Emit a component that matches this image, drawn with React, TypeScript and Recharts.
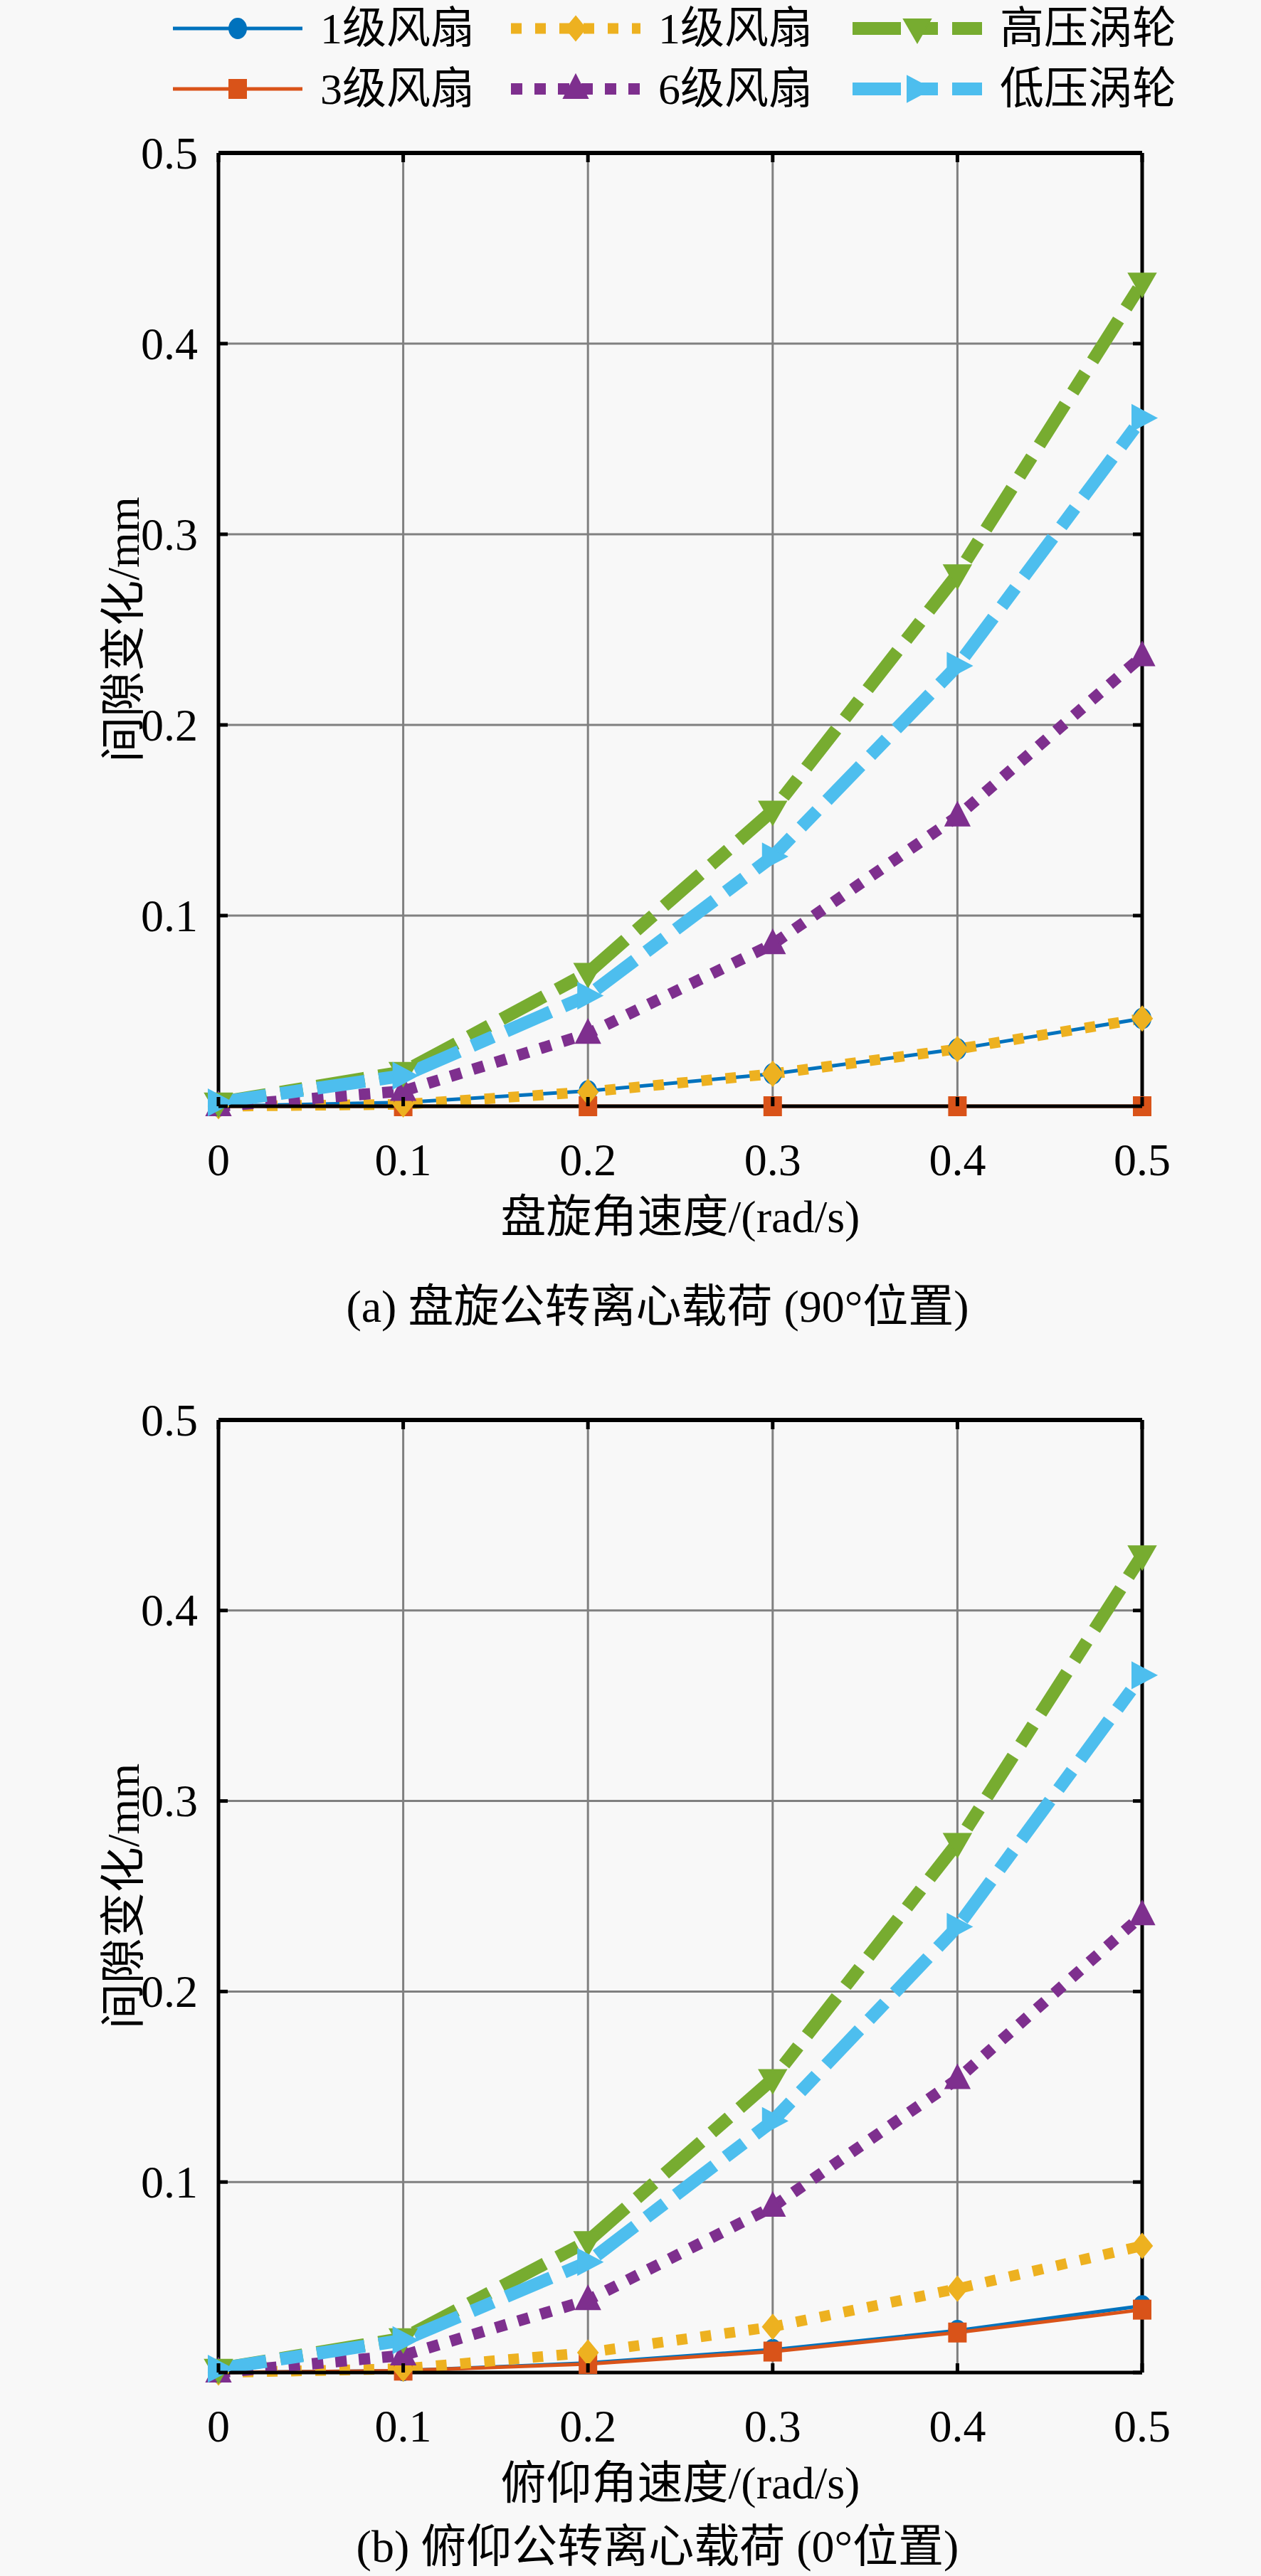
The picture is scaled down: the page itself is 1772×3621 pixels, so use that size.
// 间隙变化 vs 角速度 两个子图 (MATLAB 风格)
import React from 'react';
import { LineChart, Line, XAxis, YAxis, CartesianGrid } from 'recharts';

const FONT = "'Liberation Serif', 'Times New Roman', 'Noto Sans CJK SC', serif";
const BG = '#f8f8f8';

const xValues = [0, 0.1, 0.2, 0.3, 0.4, 0.5];
const axisTicks = [0, 0.1, 0.2, 0.3, 0.4, 0.5];

const seriesNames = ['1级风扇', '3级风扇', '1级风扇', '6级风扇', '高压涡轮', '低压涡轮'];

// (a) 盘旋
const fan1A = [0, 0.002, 0.008, 0.017, 0.03, 0.046];
const fan3A = [0, 0, 0, 0, 0, 0];
const fan1bA = [0, 0.001, 0.0075, 0.017, 0.03, 0.046];
const fan6A = [0, 0.008, 0.038, 0.085, 0.152, 0.236];
const hptA = [0.002, 0.018, 0.07, 0.155, 0.279, 0.432];
const lptA = [0.002, 0.016, 0.058, 0.131, 0.231, 0.361];

// (b) 俯仰
const fan1B = [0, 0.001, 0.005, 0.012, 0.022, 0.035];
const fan3B = [0, 0.001, 0.0045, 0.011, 0.021, 0.033];
const fan1bB = [0, 0.002, 0.0105, 0.024, 0.044, 0.0665];
const fan6B = [0, 0.009, 0.038, 0.087, 0.154, 0.24];
const hptB = [0.002, 0.018, 0.069, 0.154, 0.278, 0.429];
const lptB = [0.002, 0.017, 0.058, 0.132, 0.234, 0.366];

type Marker = 'circle' | 'square' | 'diamond' | 'triUp' | 'triDown' | 'triRight';

const seriesStyles: { key: string; color: string; width: number; dash?: string; marker: Marker }[] = [
  { key: 'fan1', color: '#0072BD', width: 5, marker: 'circle' },
  { key: 'fan3', color: '#D95319', width: 5, marker: 'square' },
  { key: 'fan1b', color: '#EDB120', width: 15, dash: '15 19', marker: 'diamond' },
  { key: 'fan6', color: '#7E2F8E', width: 16, dash: '16 17', marker: 'triUp' },
  { key: 'hpt', color: '#77AC30', width: 18, dash: '68 20 32 20', marker: 'triDown' },
  { key: 'lpt', color: '#4DBEEE', width: 18, dash: '68 20 32 20', marker: 'triRight' },
];

function MarkerShape({ shape, x, y, color }: { shape: Marker; x: number; y: number; color: string }) {
  const p = { fill: color, stroke: color, strokeWidth: 2 };
  switch (shape) {
    case 'circle':
      return <ellipse cx={x} cy={y} rx={12} ry={14} {...p} />;
    case 'square':
      return <rect x={x - 12} y={y - 13} width={24} height={26} {...p} />;
    case 'diamond':
      return <polygon points={`${x},${y - 17} ${x + 14},${y} ${x},${y + 17} ${x - 14},${y}`} {...p} />;
    case 'triUp':
      return <polygon points={`${x},${y - 20} ${x + 17},${y + 13} ${x - 17},${y + 13}`} {...p} />;
    case 'triDown':
      return <polygon points={`${x},${y + 20} ${x + 19},${y - 13} ${x - 19},${y - 13}`} {...p} />;
    default:
      return <polygon points={`${x + 20},${y} ${x - 14},${y - 18} ${x - 14},${y + 18}`} {...p} />;
  }
}

function makeDot(shape: Marker, color: string) {
  return (props: any) => {
    const { cx, cy, index } = props;
    if (cx == null || cy == null) return <g key={index} />;
    return <MarkerShape key={index} shape={shape} x={cx} y={cy} color={color} />;
  };
}

// 刻度: 向内的短刻度线 + 标签
function LeftTick({ x, y, payload }: any) {
  return (
    <g>
      <line x1={x} x2={x + 13} y1={y} y2={y} stroke="#000" strokeWidth={5} />
      {payload.value !== 0 && (
        <text x={x - 29} y={y} textAnchor="end" dominantBaseline="central" fontSize={64} fontFamily={FONT} fill="#000">
          {String(payload.value)}
        </text>
      )}
    </g>
  );
}

function BottomTick({ x, y, payload }: any) {
  return (
    <g>
      <line x1={x} x2={x} y1={y} y2={y - 13} stroke="#000" strokeWidth={5} />
      <text x={x} y={y + 75} textAnchor="middle" dominantBaseline="central" fontSize={64} fontFamily={FONT} fill="#000">
        {String(payload.value)}
      </text>
    </g>
  );
}

function TopTick({ x, y }: any) {
  return <line x1={x} x2={x} y1={y} y2={y + 13} stroke="#000" strokeWidth={5} />;
}

function RightTick({ x, y }: any) {
  return <line x1={x} x2={x - 13} y1={y} y2={y} stroke="#000" strokeWidth={5} />;
}

interface PanelProps {
  values: number[][];
  xTitle: string;
  height: number;
  bottomMargin: number;
}

function Panel({ values, xTitle, height, bottomMargin }: PanelProps) {
  const rows = xValues.map((x, i) => {
    const row: Record<string, number> = { x };
    seriesStyles.forEach((s, k) => {
      row[s.key] = values[k][i];
    });
    return row;
  });

  return (
    <LineChart
      width={1772}
      height={height}
      data={rows}
      margin={{ top: 195, right: 147, bottom: bottomMargin, left: 187 }}
      style={{ fontFamily: FONT }}
    >
      <CartesianGrid stroke="#808080" strokeWidth={3} />
      <XAxis
        dataKey="x"
        type="number"
        domain={[0, 0.5]}
        ticks={axisTicks}
        height={100}
        tickSize={0}
        tickMargin={0}
        tick={<BottomTick />}
        axisLine={{ stroke: '#000', strokeWidth: 5 }}
        label={(p: any) => {
          const vb = p.viewBox;
          return (
            <text
              x={vb.x + vb.width / 2}
              y={vb.y + 155}
              textAnchor="middle"
              dominantBaseline="central"
              fontSize={64}
              fontFamily={FONT}
              fill="#000"
            >
              {xTitle}
            </text>
          );
        }}
      />
      <XAxis
        xAxisId="top"
        dataKey="x"
        orientation="top"
        type="number"
        domain={[0, 0.5]}
        ticks={axisTicks}
        height={20}
        tickSize={0}
        tickMargin={0}
        tick={<TopTick />}
        axisLine={{ stroke: '#000', strokeWidth: 6 }}
      />
      <YAxis
        type="number"
        domain={[0, 0.5]}
        ticks={axisTicks}
        width={120}
        tickSize={0}
        tickMargin={0}
        tick={<LeftTick />}
        axisLine={{ stroke: '#000', strokeWidth: 5 }}
        label={(p: any) => {
          const vb = p.viewBox;
          const cx = vb.x - 14;
          const cy = vb.y + vb.height / 2;
          return (
            <text
              x={cx}
              y={cy}
              transform={`rotate(-90 ${cx} ${cy})`}
              textAnchor="middle"
              dominantBaseline="central"
              fontSize={64}
              fontFamily={FONT}
              fill="#000"
            >
              间隙变化/mm
            </text>
          );
        }}
      />
      <YAxis
        yAxisId="right"
        orientation="right"
        type="number"
        domain={[0, 0.5]}
        ticks={axisTicks}
        width={20}
        tickSize={0}
        tickMargin={0}
        tick={<RightTick />}
        axisLine={{ stroke: '#000', strokeWidth: 5 }}
      />
      {/* 隐藏线: 让上/右边框轴拿到数据域 */}
      <Line
        xAxisId="top"
        yAxisId="right"
        dataKey={seriesStyles[0].key}
        stroke="transparent"
        dot={false}
        activeDot={false}
        isAnimationActive={false}
      />
      {seriesStyles.map((s, k) => (
        <Line
          key={s.key}
          type="linear"
          dataKey={s.key}
          name={seriesNames[k]}
          stroke={s.color}
          strokeWidth={s.width}
          strokeDasharray={s.dash}
          dot={makeDot(s.marker, s.color)}
          activeDot={false}
          isAnimationActive={false}
        />
      ))}
    </LineChart>
  );
}

// 图例: 2 行 3 列
const legendCols = [243, 718, 1198];
const legendRows = [40, 125];

function LegendBox() {
  return (
    <svg width={1772} height={180} style={{ position: 'absolute', left: 0, top: 0 }}>
      {seriesStyles.map((s, k) => {
        const col = Math.floor(k / 2);
        const row = k % 2;
        const x0 = legendCols[col];
        const y = legendRows[row];
        const len = 182;
        return (
          <g key={s.key}>
            <line
              x1={x0}
              x2={x0 + len}
              y1={y}
              y2={y}
              stroke={s.color}
              strokeWidth={s.width}
              strokeDasharray={s.dash}
            />
            <MarkerShape shape={s.marker} x={x0 + len / 2} y={y} color={s.color} />
            <text
              x={x0 + len + 25}
              y={y}
              dominantBaseline="central"
              fontSize={62}
              fontFamily={FONT}
              fill="#000"
            >
              {seriesNames[k]}
            </text>
          </g>
        );
      })}
    </svg>
  );
}

function Caption({ text, top }: { text: string; top: number }) {
  return (
    <div
      style={{
        position: 'absolute',
        left: 0,
        width: 1848,
        top,
        textAlign: 'center',
        fontSize: 64,
        fontFamily: FONT,
        lineHeight: '80px',
        color: '#000',
      }}
    >
      {text}
    </div>
  );
}

export default function App() {
  return (
    <div style={{ position: 'relative', width: 1772, height: 3621, background: BG, overflow: 'hidden' }}>
      <style>{`body{margin:0;background:${BG};}`}</style>
      <div style={{ position: 'absolute', left: 0, top: 0 }}>
        <Panel
          values={[fan1A, fan3A, fan1bA, fan6A, hptA, lptA]}
          xTitle="盘旋角速度/(rad/s)"
          height={1781}
          bottomMargin={126}
        />
      </div>
      <div style={{ position: 'absolute', left: 0, top: 1781 }}>
        <Panel
          values={[fan1B, fan3B, fan1bB, fan6B, hptB, lptB]}
          xTitle="俯仰角速度/(rad/s)"
          height={1840}
          bottomMargin={186}
        />
      </div>
      <LegendBox />
      <Caption text="(a) 盘旋公转离心载荷 (90°位置)" top={1797} />
      <Caption text="(b) 俯仰公转离心载荷 (0°位置)" top={3540} />
    </div>
  );
}
